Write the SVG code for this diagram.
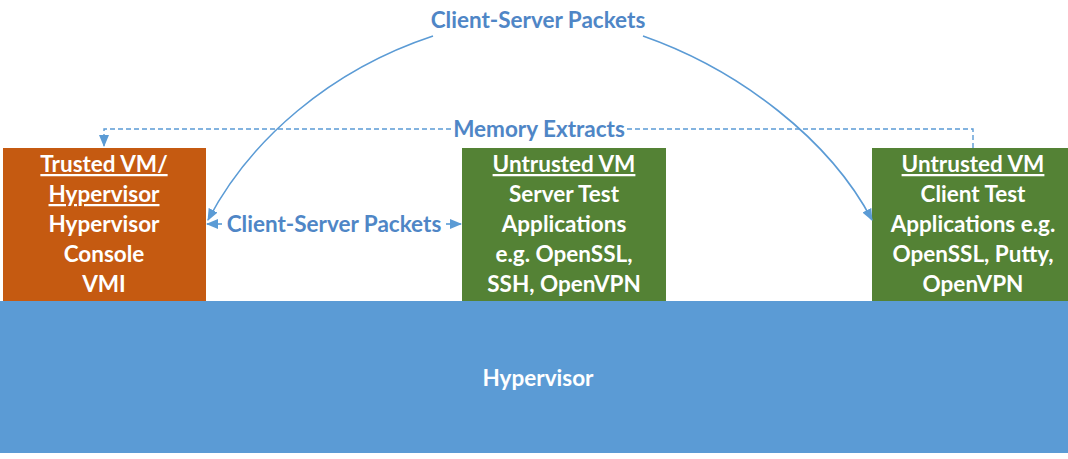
<svg xmlns="http://www.w3.org/2000/svg" width="1068" height="459" viewBox="0 0 1068 459">
<style>
  .box-text { font-family: Lato, "Open Sans", "Liberation Sans", sans-serif; font-weight: bold; font-size: 22.5px; fill: #ffffff; text-anchor: middle; }
  .u { text-decoration: underline; }
  .lbl { font-family: Lato, "Open Sans", "Liberation Sans", sans-serif; font-weight: bold; font-size: 22.5px; fill: #4F86C6; text-anchor: middle; }
  .conn { fill: none; stroke: #5B9BD5; stroke-width: 1.6; }
  .dash { fill: none; stroke: #5B9BD5; stroke-width: 1.4; stroke-dasharray: 5 3; }
</style>
<defs>
  <marker id="arr" viewBox="0 0 12 10" refX="11" refY="5" markerWidth="12" markerHeight="10" markerUnits="userSpaceOnUse" orient="auto-start-reverse">
    <path d="M0,0 L12,5 L0,10 Z" fill="#5B9BD5"/>
  </marker>
</defs>
<rect width="1068" height="459" fill="#ffffff"/>

<g id="hypervisor">
  <rect x="0" y="301" width="1068" height="152" fill="#5B9BD5"/>
  <text class="box-text" x="538" y="386">Hypervisor</text>
</g>

<g id="trusted-vm">
  <rect x="3" y="148" width="203" height="153" fill="#C55A11"/>
  <text class="box-text u" x="104" y="172">Trusted VM/</text>
  <text class="box-text u" x="104" y="202">Hypervisor</text>
  <text class="box-text" x="104" y="232">Hypervisor</text>
  <text class="box-text" x="104" y="262">Console</text>
  <text class="box-text" x="104" y="292">VMI</text>
</g>

<g id="server-vm">
  <rect x="462" y="148" width="204" height="153" fill="#548235"/>
  <text class="box-text u" x="564" y="172">Untrusted VM</text>
  <text class="box-text" x="564" y="202">Server Test</text>
  <text class="box-text" x="564" y="232">Applications</text>
  <text class="box-text" x="564" y="262">e.g. OpenSSL,</text>
  <text class="box-text" x="564" y="292">SSH, OpenVPN</text>
</g>

<g id="client-vm">
  <rect x="872" y="148" width="196" height="153" fill="#548235"/>
  <text class="box-text u" x="973" y="172">Untrusted VM</text>
  <text class="box-text" x="973" y="202">Client Test</text>
  <text class="box-text" x="973" y="232">Applications e.g.</text>
  <text class="box-text" x="973" y="262">OpenSSL, Putty,</text>
  <text class="box-text" x="973" y="292">OpenVPN</text>
</g>

<g id="connectors">
  <path class="dash" d="M973,148 V129 H627 M451,129 H104 V146" marker-end="url(#arr)"/>
  <text class="lbl" x="539" y="137">Memory Extracts</text>

  <text class="lbl" x="538" y="28">Client-Server Packets</text>
  <path class="conn" d="M433,36 C330,70 250,140 208,220" marker-end="url(#arr)"/>
  <path class="conn" d="M643,36 C740,70 830,140 872,220" marker-end="url(#arr)"/>

  <path class="conn" d="M222,224 H207" marker-end="url(#arr)"/>
  <path class="conn" d="M446,224 H461" marker-end="url(#arr)"/>
  <text class="lbl" x="334" y="232">Client-Server Packets</text>
</g>
</svg>
